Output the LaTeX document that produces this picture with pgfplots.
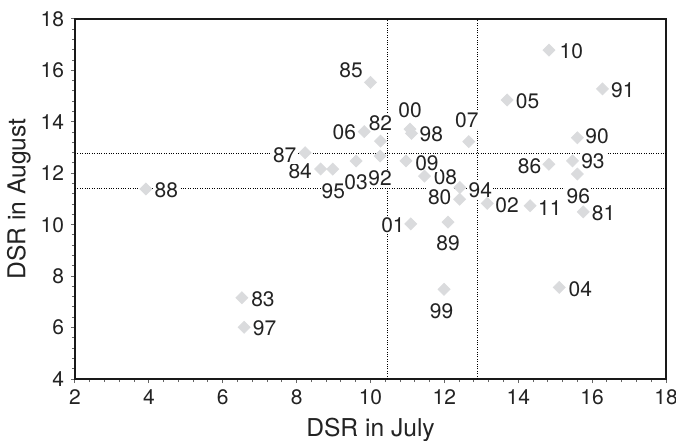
\documentclass[border=0pt]{standalone}
\usepackage{fontspec}
\setmainfont{TeX Gyre Heros}
\usepackage{pgfplots}
\usepackage{pgfplotstable}
\pgfplotsset{compat=1.18}
\definecolor{mk}{RGB}{218,219,221}
\definecolor{txt}{RGB}{35,35,35}
\pgfplotstableread{
x y lab dx dy
12.41 10.99 80 -9.9 1.2
15.76 10.50 81 10.2 -0.8
10.27 13.25 82 0.0 9.2
6.52 7.16 83 10.5 -0.7
8.65 12.17 84 -10.2 -1.3
10.00 15.54 85 -9.7 5.8
14.83 12.35 86 -9.7 -1.2
8.23 12.80 87 -10.2 -1.2
3.92 11.39 88 10.2 -0.5
12.10 10.10 89 0.0 -10.3
15.60 13.38 90 9.9 0.8
16.28 15.28 91 10.2 -0.5
10.26 12.67 92 0.0 -11.2
15.47 12.48 93 10.2 -0.3
12.42 11.45 94 10.2 -1.3
8.98 12.16 95 0.3 -10.8
15.60 11.97 96 0.5 -11.3
6.58 6.01 97 10.2 -0.5
11.11 13.55 98 9.9 -0.5
11.99 7.49 99 -1.2 -11.2
11.07 13.72 00 0.0 9.5
11.09 10.03 01 -8.9 -0.5
13.16 10.83 02 9.9 -1.0
9.61 12.48 03 0.0 -10.8
15.11 7.56 04 10.5 -1.0
13.70 14.85 05 10.2 -0.5
9.83 13.62 06 -9.9 -0.5
12.66 13.23 07 -1.0 10.5
11.46 11.89 08 10.5 -0.3
10.96 12.48 09 10.5 -1.2
14.83 16.79 10 11.2 -0.3
14.32 10.74 11 9.9 -1.0
}\data
\begin{document}
\begin{tikzpicture}
\begin{axis}[
  scale only axis, width=295.5bp, height=180bp,
  xmin=2, xmax=18, ymin=4, ymax=18,
  xtick={2,4,...,18}, ytick={4,6,...,18},
  minor tick num=4,
  tick align=outside, xtick pos=left, ytick pos=left,
  major tick length=2bp, minor tick length=1.5bp,
  tick style={black!60, line width=0.5bp},
  axis line style={line width=1bp, black!90},
  ticklabel style={font=\fontsize{10.5bp}{12bp}\selectfont, text=txt},
  /pgf/number format/assume math mode=true,
  xlabel={DSR in July}, ylabel={DSR in August},
  label style={font=\fontsize{12.3bp}{14bp}\selectfont, text=txt},
  xlabel style={at={(axis description cs:0.5,-0.1417)}, anchor=center},
  ylabel style={at={(axis description cs:-0.0948,0.5)}, anchor=center},
  clip=false,
]
\addplot[black, line width=0.5bp, dash pattern=on 0.5bp off 0.7bp] coordinates {(10.45,4) (10.45,18)};
\addplot[black, line width=0.5bp, dash pattern=on 0.5bp off 0.7bp] coordinates {(12.9,4) (12.9,18)};
\addplot[black, line width=0.5bp, dash pattern=on 0.5bp off 0.7bp] coordinates {(2,12.75) (18,12.75)};
\addplot[black, line width=0.5bp, dash pattern=on 0.5bp off 0.7bp] coordinates {(2,11.4) (18,11.4)};
\addplot[draw=none, mark=none,
  point meta=explicit symbolic,
  nodes near coords,
  visualization depends on={\thisrow{dx}\as\mydx},
  visualization depends on={\thisrow{dy}\as\mydy},
  every node near coord/.append style={anchor=center, xshift=\mydx bp, yshift=\mydy bp, fill=white, inner sep=0.6bp, font=\fontsize{10.5bp}{12bp}\selectfont, text=txt},
] table[x=x, y=y, meta=lab]{\data};
\addplot[only marks, mark=square*, mark size=2.1bp, mark options={fill=mk, draw=mk, rotate=45}] table[x=x, y=y]{\data};
\end{axis}
\pgfresetboundingbox
\path[use as bounding box] ([shift={(-37.5bp,-31bp)}]current axis.south west) rectangle ([shift={(5bp,9.5bp)}]current axis.north east);
\end{tikzpicture}
\end{document}
